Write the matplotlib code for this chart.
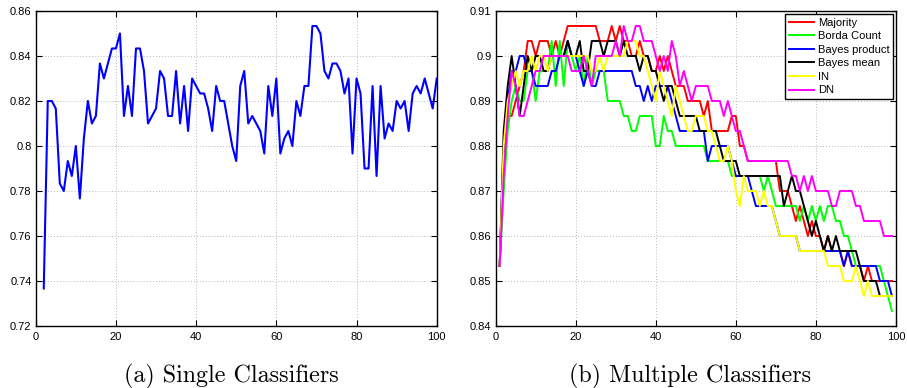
import numpy as np
import matplotlib
matplotlib.use("Agg")
import matplotlib.pyplot as plt
import matplotlib.ticker as mticker

# ── Data: number of correctly classified test samples (out of 300) ───────────
N_TEST = 300

# (a) single classifier, ensemble size 2..100
single_x = list(range(2, 101))
single_correct = [
    221, 246, 246, 245, 235, 234, 238, 236, 240, 233,
    241, 246, 243, 244, 251, 249, 251, 253, 253, 255,
    244, 248, 244, 253, 253, 250, 243, 244, 245, 250,
    249, 244, 244, 250, 243, 248, 242, 249, 248, 247,
    247, 245, 242, 248, 246, 246, 243, 240, 238, 248,
    250, 243, 244, 243, 242, 239, 248, 244, 249, 239,
    241, 242, 240, 246, 244, 248, 248, 256, 256, 255,
    250, 249, 251, 251, 250, 247, 249, 239, 249, 247,
    237, 237, 248, 236, 248, 241, 243, 242, 246, 245,
    246, 242, 247, 248, 247, 249, 247, 245, 249,
]

# (b) combination rules, ensemble size 1..99
multi_x = list(range(1, 100))
majority = [
    256, 263, 266, 266, 267, 268, 269, 271, 271, 270,
    271, 271, 271, 270, 271, 270, 271, 272, 272, 272,
    272, 272, 272, 272, 272, 271, 271, 271, 272, 271,
    272, 271, 271, 270, 270, 271, 270, 270, 269, 269,
    270, 269, 270, 269, 268, 268, 268, 267, 267, 267,
    267, 266, 267, 265, 265, 265, 265, 265, 266, 266,
    264, 264, 263, 263, 263, 263, 263, 263, 263, 263,
    261, 261, 261, 260, 259, 260, 259, 258, 259, 258,
    258, 257, 258, 257, 257, 257, 256, 257, 256, 256,
    256, 255, 256, 255, 255, 255, 255, 255, 255,
]
borda = [
    256, 261, 265, 267, 268, 267, 267, 269, 269, 267,
    269, 269, 269, 271, 268, 271, 268, 271, 270, 269,
    270, 268, 270, 268, 269, 269, 269, 267, 267, 267,
    267, 266, 266, 265, 265, 266, 266, 266, 266, 264,
    264, 266, 265, 265, 264, 264, 264, 264, 264, 264,
    264, 264, 263, 263, 263, 263, 263, 263, 262, 262,
    262, 262, 262, 262, 262, 262, 261, 262, 261, 260,
    260, 260, 260, 260, 260, 259, 260, 259, 260, 259,
    260, 259, 260, 260, 259, 259, 258, 258, 257, 256,
    256, 256, 256, 256, 256, 256, 255, 254, 253,
]
bayes_product = [
    256, 264, 267, 269, 269, 270, 270, 269, 269, 268,
    268, 268, 268, 269, 269, 270, 270, 271, 270, 270,
    269, 268, 269, 268, 268, 269, 269, 269, 269, 269,
    269, 269, 269, 269, 268, 268, 267, 268, 267, 268,
    268, 268, 268, 267, 266, 265, 265, 265, 265, 265,
    265, 265, 263, 264, 264, 264, 264, 264, 263, 262,
    262, 262, 262, 261, 260, 260, 260, 260, 260, 259,
    258, 258, 258, 258, 258, 257, 257, 257, 257, 257,
    257, 257, 257, 257, 257, 257, 256, 257, 256, 256,
    256, 256, 256, 256, 256, 255, 255, 255, 254,
]
bayes_mean = [
    256, 265, 268, 270, 268, 266, 268, 270, 269, 270,
    270, 269, 269, 270, 270, 270, 270, 271, 270, 270,
    271, 269, 269, 271, 271, 271, 270, 271, 271, 271,
    270, 271, 270, 270, 270, 269, 270, 270, 269, 269,
    268, 267, 268, 268, 267, 266, 266, 266, 266, 266,
    265, 265, 265, 265, 265, 264, 263, 263, 263, 263,
    262, 262, 262, 262, 262, 262, 262, 262, 262, 262,
    262, 260, 261, 262, 261, 261, 260, 259, 258, 259,
    258, 257, 258, 257, 258, 257, 257, 257, 257, 257,
    256, 255, 255, 255, 255, 254, 254, 254, 254,
]
in_rule = [
    256, 264, 267, 268, 269, 268, 269, 269, 270, 269,
    270, 270, 269, 270, 270, 270, 270, 270, 270, 270,
    270, 270, 270, 269, 269, 270, 269, 270, 270, 270,
    270, 270, 271, 271, 271, 270, 270, 269, 268, 267,
    269, 268, 267, 266, 268, 267, 266, 265, 265, 266,
    266, 266, 265, 265, 264, 263, 263, 264, 263, 261,
    260, 262, 261, 261, 261, 260, 261, 260, 260, 259,
    258, 258, 258, 258, 258, 257, 257, 257, 257, 257,
    257, 257, 256, 256, 256, 256, 255, 255, 255, 256,
    255, 254, 255, 254, 254, 254, 254, 254, 254,
]
dn_rule = [
    256, 262, 266, 269, 268, 266, 266, 267, 268, 269,
    269, 270, 270, 270, 270, 270, 270, 270, 269, 269,
    269, 270, 269, 268, 270, 270, 270, 270, 270, 271,
    270, 272, 271, 271, 272, 272, 271, 271, 271, 270,
    269, 270, 269, 271, 270, 268, 269, 268, 267, 268,
    268, 268, 268, 267, 267, 267, 266, 267, 266, 265,
    265, 264, 263, 263, 263, 263, 263, 263, 263, 263,
    263, 263, 263, 262, 262, 261, 262, 261, 262, 261,
    261, 261, 261, 260, 260, 261, 261, 261, 261, 260,
    260, 259, 259, 259, 259, 259, 258, 258, 258,
]

labels = ["Majority", "Borda Count", "Bayes product", "Bayes mean", "IN", "DN"]
series = [majority, borda, bayes_product, bayes_mean, in_rule, dn_rule]
colors = ["#ff0000", "#00ff00", "#0000ff", "#000000", "#ffff00", "#ff00ff"]

plt.rcParams.update({"font.family": "Liberation Sans", "font.size": 8})


def style_axes(ax, ylo, yhi, ystep):
    ax.set_xlim(0, 100)
    ax.set_ylim(ylo, yhi)
    ax.set_xticks(np.arange(0, 101, 20))
    ax.set_yticks(np.arange(ylo, yhi + ystep / 2, ystep))
    ax.yaxis.set_major_formatter(
        mticker.FuncFormatter(lambda v, p: f"{round(v, 4):g}"))
    ax.tick_params(direction="in", length=4, width=0.8, top=True, right=True,
                   labelsize=8, colors="black")
    ax.tick_params(axis="x", pad=4)
    ax.tick_params(axis="y", pad=3)
    ax.grid(True, linestyle=(0, (1, 2.5)), color="#a0a0a0", linewidth=0.6)
    for sp in ax.spines.values():
        sp.set_linewidth(1.0)
        sp.set_color("black")


fig = plt.figure(figsize=(9.07, 3.88), dpi=100)
ax1 = fig.add_axes([0.0394, 0.1598, 0.4421, 0.8119])
ax2 = fig.add_axes([0.5465, 0.1598, 0.4413, 0.8119])

# (a) single classifiers
ax1.plot(single_x, np.array(single_correct) / N_TEST, color="#0000ff", linewidth=1.5)
style_axes(ax1, 0.72, 0.86, 0.02)

# (b) multiple classifiers
for vals, lab, col in zip(series, labels, colors):
    ax2.plot(multi_x, np.array(vals) / N_TEST, color=col, linewidth=1.4, label=lab)
style_axes(ax2, 0.84, 0.91, 0.01)

leg = ax2.legend(loc="upper right", fontsize=8, frameon=True, fancybox=False,
                 framealpha=1, edgecolor="black", handlelength=2.3,
                 handletextpad=0.3, labelspacing=0.32, borderpad=0.35,
                 borderaxespad=0.25)
leg.get_frame().set_linewidth(1.0)

# captions
fig.text(231 / 907, 12 / 388, "(a) Single Classifiers", ha="center", va="center",
         family="cmr10", fontsize=17.3)
fig.text(690 / 907, 12 / 388, "(b) Multiple Classifiers", ha="center", va="center",
         family="cmr10", fontsize=17.3)

fig.savefig("out.png", dpi=100)
